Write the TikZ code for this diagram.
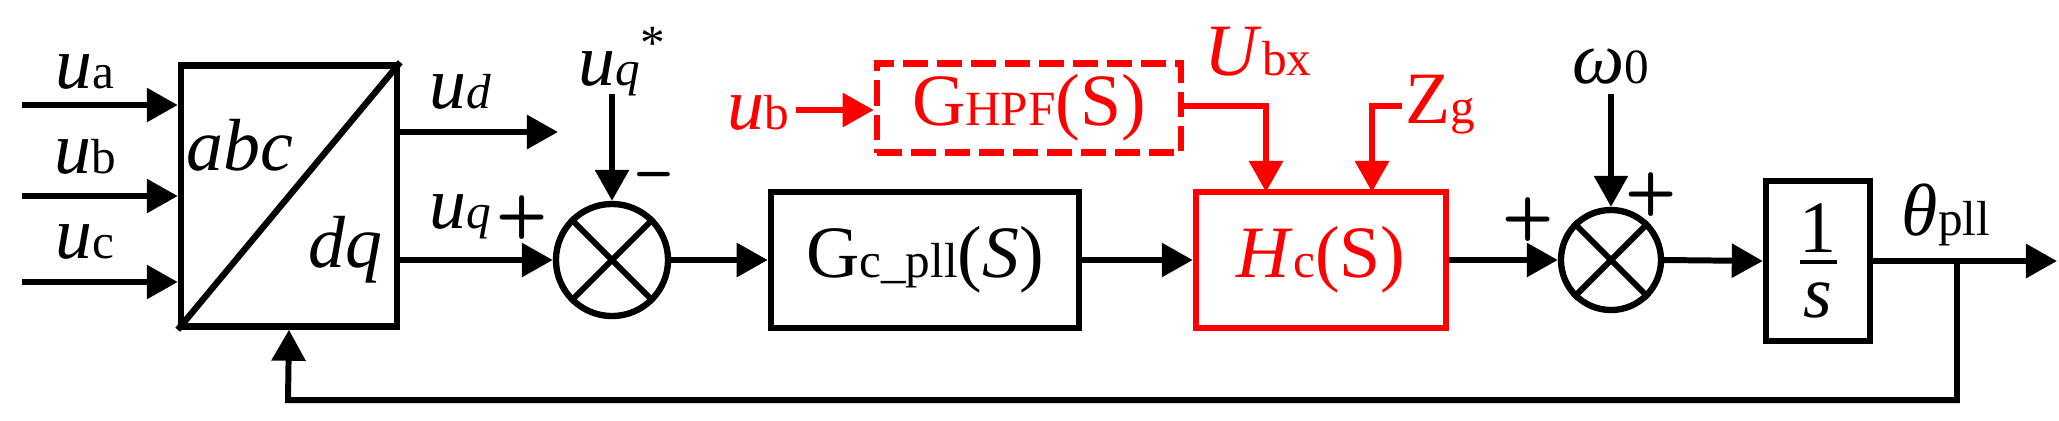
\documentclass[tikz,border=0pt]{standalone}
\usepackage{fontspec}
\setmainfont{Liberation Serif}
\usetikzlibrary{arrows.meta}
\definecolor{rd}{RGB}{255,0,0}
\newcommand{\sbs}[1]{{\fontsize{14}{14}\selectfont #1}}
\begin{document}
\begin{tikzpicture}[x=0.01cm,y=-0.01cm,
  line width=1.7pt,
  arr/.style={-{Triangle[length=3.1mm,width=3.3mm]}},
  blk/.style={draw,rectangle,line width=1.8pt,inner sep=0pt},
  sumj/.style={draw,circle,line width=1.8pt,inner sep=0pt},
  lab/.style={inner sep=0pt,font=\fontsize{21}{24}\selectfont},
  sgn/.style={inner sep=0pt,font=\fontsize{17}{17}\selectfont\sffamily\bfseries}]
\useasboundingbox (0,0) rectangle (2059,420);
% blocks
\node[blk,minimum width=2.16cm,minimum height=2.61cm] (abc) at (289,196) {};
\node[blk,minimum width=3.08cm,minimum height=1.36cm] (gc) at (925,260) {};
\node[blk,draw=rd,minimum width=2.50cm,minimum height=1.36cm] (hc) at (1321,260) {};
\node[blk,draw=rd,dash pattern=on 0.25cm off 0.09cm,minimum width=3.04cm,minimum height=0.89cm] (hpf) at (1029,108) {};
\node[blk,minimum width=1.04cm,minimum height=1.60cm] (int) at (1818,261) {};
\node[sumj,minimum size=1.12cm] (s1) at (612,260) {};
\node[sumj,minimum size=1.00cm] (s2) at (1611,260) {};
\draw[line width=1.8pt] (abc.south west) -- (abc.north east);
\draw (s1.north east) -- (s1.south west) (s1.north west) -- (s1.south east);
\draw (s2.north east) -- (s2.south west) (s2.north west) -- (s2.south east);
% block texts
\node[lab] (tabc) at (240,145) {\itshape abc};
\node[lab] (tdq) at (345,250) {\itshape dq};
\node[lab] (tgc) at (gc.center) {G\sbs{c\_pll}(\textit{S})};
\node[lab,text=rd] (thc) at (hc.center) {\textit{H}\sbs{c}(S)};
\node[lab,text=rd] (thpf) at (hpf.center) {G\sbs{HPF}(S)};
\node[lab] (t1) at (1818,228) {1};
\draw[line width=1.2pt] (1800,262) -- (1837,262);
\node[lab] (ts) at (1818,300) {\itshape s};
% inputs
\coordinate (ina) at (22,105);
\coordinate (inb) at (22,196);
\coordinate (inc) at (22,282);
\draw[arr] (ina) -- (abc.west|-ina);
\draw[arr] (inb) -- (abc.west|-inb);
\draw[arr] (inc) -- (abc.west|-inc);
\node[lab] (ua) at (85,72) {\textit{u}\sbs{a}};
\node[lab] (ub) at (85,157) {\textit{u}\sbs{b}};
\node[lab] (uc) at (85,242) {\textit{u}\sbs{c}};
% outputs of abc
\coordinate (udend) at (558,132);
\draw[arr] (abc.east|-udend) -- (udend);
\node[lab] (ud) at (460,92) {\textit{u\sbs{d}}};
\draw[arr] (abc.east|-s1.west) -- (s1.west);
\node[lab] (uq) at (460,217) {\textit{u\sbs{q}}};
\node[sgn] (p1) at (522,218) {+};
% uq*
\coordinate (uqs) at (612,94);
\draw[arr] (uqs) -- (s1.north);
\node[lab] (luqs) at (622,62) {\textit{u\sbs{q}}\raisebox{0.35em}{\sbs{*}}};
\node[sgn] (m1) at (654,182) {\textbf{--}};
% main path
\draw[arr] (s1.east) -- (gc.west);
\draw[arr] (gc.east) -- (hc.west);
\draw[arr] (hc.east) -- (s2.west);
\node[sgn] (p2) at (1528,220) {+};
\draw[arr] (s2.east) -- (int.west);
\coordinate (om) at (1611,94);
\draw[arr] (om) -- (s2.north);
\node[lab] (lom) at (1611,67) {\textit{ω}\sbs{0}};
\node[sgn] (p3) at (1651,195) {+};
% red parts
\coordinate (ubin) at (796,110);
\coordinate (hpfo) at (1181,106);
\coordinate (ubxd) at (1266,192);
\coordinate (zg) at (1402,106);
\coordinate (zgd) at (1372,192);
\draw[arr,draw=rd] (ubin) -- (hpf.west|-ubin);
\node[lab,text=rd] (lub) at (758,113) {\textit{u}\sbs{b}};
\draw[arr,draw=rd] (hpfo) -| (ubxd);
\node[lab,text=rd] (lubx) at (1258,52) {\textit{U}\sbs{bx}};
\draw[arr,draw=rd] (zg) -| (zgd);
\node[lab,text=rd] (lzg) at (1440,105) {Z\sbs{g}};
% output and feedback
\coordinate (outend) at (2057,261);
\draw[arr] (int.east) -- (outend);
\node[lab] (lth) at (1946,215) {\textit{θ}\sbs{pll}};
\coordinate (br) at (1957,261);
\coordinate (fb1) at (1957,400);
\coordinate (fb2) at (288,400);
\draw[arr] (br) -- (fb1) -- (fb2) -- (abc.south);
\end{tikzpicture}
\end{document}
